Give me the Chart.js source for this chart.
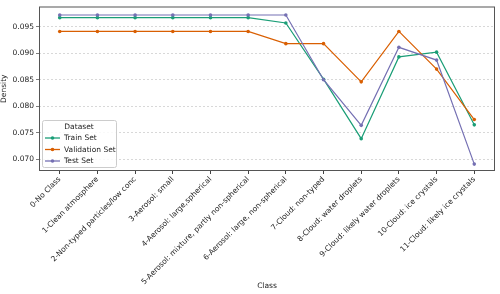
<!DOCTYPE html>
<html>
<head>
<meta charset="utf-8">
<script src="https://cdn.jsdelivr.net/npm/chart.js@4"></script>
<style>
  html, body { margin: 0; padding: 0; background: #fff; }
  #wrap { width: 500px; height: 294px; }
</style>
</head>
<body>
<div id="wrap"><canvas id="graph"></canvas></div>
<script>
// data
const classes = [
  "0-No Class", "1-Clean atmosphere", "2-Non-typed particles/low conc",
  "3-Aerosol: small", "4-Aerosol: large,spherical",
  "5-Aerosol: mixture, partly non-spherical", "6-Aerosol: large, non-spherical",
  "7-Cloud: non-typed", "8-Cloud: water droplets", "9-Cloud: likely water droplets",
  "10-Cloud: ice crystals", "11-Cloud: likely ice crystals"
];
const trainSet = [0.0967, 0.0967, 0.0967, 0.0967, 0.0967, 0.0967, 0.0957, 0.0851, 0.0739, 0.0893, 0.0902, 0.0765];
const validationSet = [0.0941, 0.0941, 0.0941, 0.0941, 0.0941, 0.0941, 0.0918, 0.0918, 0.0846, 0.0941, 0.0870, 0.0775];
const testSet = [0.0972, 0.0972, 0.0972, 0.0972, 0.0972, 0.0972, 0.0972, 0.0850, 0.0764, 0.0911, 0.0887, 0.0691];
const yTicks = [0.070, 0.075, 0.080, 0.085, 0.090, 0.095];

const FONT = "'DejaVu Sans', sans-serif";

window.addEventListener("load", function () {
    const series = [
        { label: "Train Set", values: trainSet, color: "#1b9e77", order: 2 },
        { label: "Validation Set", values: validationSet, color: "#d95f02", order: 1 },
        { label: "Test Set", values: testSet, color: "#7570b3", order: 0 }
    ];

    // box around the plot + legend in the lower left corner
    const framePlugin = {
        id: "frame",
        afterDraw(chart) {
            const ctx = chart.ctx;
            const a = chart.chartArea;
            ctx.save();
            ctx.strokeStyle = "#555";
            ctx.lineWidth = 1;
            ctx.strokeRect(a.left + 0.5, a.top + 0.5, a.right - a.left - 1, a.bottom - a.top - 1);

            // legend
            const lx = a.left + 3, ly = a.bottom - 51, lw = 74, lh = 47;
            ctx.fillStyle = "rgba(255,255,255,0.85)";
            ctx.strokeStyle = "#ccc";
            ctx.beginPath();
            ctx.roundRect(lx + 0.5, ly + 0.5, lw, lh, 2);
            ctx.fill();
            ctx.stroke();
            ctx.fillStyle = "#222";
            ctx.font = "7.5px " + FONT;
            ctx.textBaseline = "middle";
            ctx.textAlign = "center";
            ctx.fillText("Dataset", lx + lw / 2, ly + 7);
            ctx.textAlign = "left";
            series.forEach(function (s, i) {
                const yy = ly + 18 + i * 11.5;
                ctx.strokeStyle = s.color;
                ctx.lineWidth = 1.3;
                ctx.beginPath();
                ctx.moveTo(lx + 3, yy);
                ctx.lineTo(lx + 18, yy);
                ctx.stroke();
                ctx.fillStyle = s.color;
                ctx.beginPath();
                ctx.arc(lx + 10.5, yy, 1.8, 0, Math.PI * 2);
                ctx.fill();
                ctx.fillStyle = "#222";
                ctx.fillText(s.label, lx + 22, yy + 0.5);
            });
            ctx.restore();
        }
    };

    const ctx = document.getElementById("graph").getContext("2d");
    const myChart = new Chart(ctx, {
        type: "line",
        data: {
            datasets: series.map(function (s) {
                return {
                    label: s.label,
                    data: s.values.map(function (v, i) { return { x: i, y: v }; }),
                    borderColor: s.color,
                    backgroundColor: s.color,
                    borderWidth: 1.2,
                    pointRadius: 1.8,
                    pointHoverRadius: 1.8,
                    pointBorderWidth: 0,
                    order: s.order,
                    tension: 0
                };
            })
        },
        options: {
            responsive: true,
            maintainAspectRatio: false,
            animation: false,
            layout: { padding: { top: 5, right: 5, left: 0, bottom: 0 } },
            plugins: {
                legend: { display: false },
                tooltip: { enabled: false }
            },
            scales: {
                x: {
                    type: "linear",
                    min: -0.55,
                    max: 11.55,
                    afterBuildTicks: function (scale) {
                        scale.ticks = classes.map(function (c, i) { return { value: i }; });
                    },
                    afterFit: function (scale) { scale.height = 123; },
                    ticks: {
                        autoSkip: false,
                        minRotation: 45,
                        maxRotation: 45,
                        padding: 1,
                        color: "#222",
                        font: { family: FONT, size: 7.5 },
                        callback: function (v) { return classes[v]; }
                    },
                    grid: { drawOnChartArea: false, drawTicks: true, tickLength: 3, tickColor: "#444" },
                    border: { display: false },
                    title: {
                        display: true,
                        text: "Class",
                        color: "#222",
                        font: { family: FONT, size: 7.5 },
                        padding: { top: 0, bottom: 3 }
                    }
                },
                y: {
                    min: 0.0678,
                    max: 0.0988,
                    afterBuildTicks: function (scale) {
                        scale.ticks = yTicks.map(function (v) { return { value: v }; });
                    },
                    afterFit: function (scale) { scale.width = 39; },
                    ticks: {
                        padding: 2,
                        color: "#222",
                        font: { family: FONT, size: 7.5 },
                        callback: function (v) { return v.toFixed(3); }
                    },
                    grid: {
                        color: "#c8c8c8",
                        lineWidth: 0.7,
                        drawTicks: true,
                        tickLength: 3,
                        tickColor: "#444",
                        tickBorderDash: [],
                        tickBorderDashOffset: 0
                    },
                    border: { display: false, dash: [2, 2] },
                    title: {
                        display: true,
                        text: "Density",
                        color: "#222",
                        font: { family: FONT, size: 7.5 },
                        padding: { top: 0, bottom: 0 }
                    }
                }
            }
        },
        plugins: [framePlugin]
    });
});
</script>
</body>
</html>
